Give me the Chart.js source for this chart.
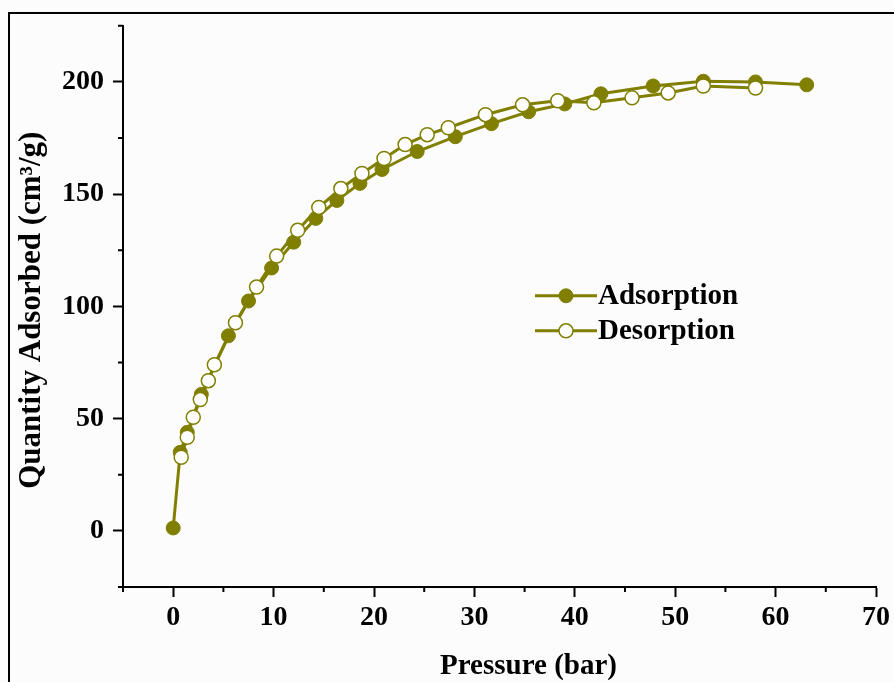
<!DOCTYPE html>
<html>
<head>
<meta charset="utf-8">
<script src="https://cdn.jsdelivr.net/npm/chart.js@4.4.1/dist/chart.umd.min.js"></script>
<style>
    html, body { margin: 0; padding: 0; background: #fcfcfc; }
    #frame {
        position: absolute; left: 8px; top: 12px; right: -10px; bottom: -10px;
        border-left: 2px solid #000; border-top: 2px solid #000;
    }
    #chart { position: absolute; left: 0; top: 0; }
</style>
</head>
<body>
<div id="frame"></div>
<canvas id="chart" width="894" height="682"></canvas>
<script>
// Adsorption isotherm (filled) and desorption branch (open)
const adsPressure = [0.0, 0.7, 1.4, 2.8, 5.5, 7.5, 9.8, 12.0, 14.2, 16.3, 18.6, 20.8, 24.3, 28.1, 31.7, 35.4, 39.0, 42.6, 47.8, 52.8, 58.0, 63.1];
const adsQuantity = [1.3, 35.0, 43.9, 60.8, 86.9, 102.4, 117.1, 128.6, 139.2, 147.2, 154.8, 161.0, 169.0, 175.6, 181.4, 186.7, 190.2, 194.7, 198.2, 200.3, 200.0, 198.7];

const desPressure = [58.0, 52.8, 49.3, 45.7, 41.9, 38.3, 34.8, 31.1, 27.4, 25.3, 23.1, 21.0, 18.8, 16.7, 14.5, 12.4, 10.3, 8.3, 6.2, 4.1, 3.5, 2.7, 2.0, 1.4, 0.8];
const desQuantity = [197.3, 198.2, 195.1, 192.9, 190.7, 191.6, 189.8, 185.4, 179.6, 176.5, 172.1, 165.9, 159.2, 152.5, 144.1, 133.9, 122.4, 108.6, 92.7, 74.0, 66.9, 58.5, 50.6, 41.7, 32.8];

const xTicks = [0, 10, 20, 30, 40, 50, 60, 70];
const xMinorTicks = [-5, 5, 15, 25, 35, 45, 55, 65];
const yTicks = [0, 50, 100, 150, 200];
const yMinorTicks = [-25, 25, 75, 125, 175, 225];

const olive = '#807f00';
const serif = "'Liberation Serif', 'Times New Roman', serif";

function toPoints(xs, ys) {
    return xs.map((x, i) => ({ x: x, y: ys[i] }));
}

// short minor ticks, drawn outward like the major ones
const minorTicks = {
    id: 'minorTicks',
    afterDraw(chart) {
        const ctx = chart.ctx;
        const xs = chart.scales.x, ys = chart.scales.y;
        ctx.save();
        ctx.strokeStyle = '#000';
        ctx.lineWidth = 2;
        ctx.beginPath();
        xMinorTicks.forEach(v => {
            const px = xs.getPixelForValue(v);
            ctx.moveTo(px, xs.top);
            ctx.lineTo(px, xs.top + 5);
        });
        yMinorTicks.forEach(v => {
            const py = ys.getPixelForValue(v);
            ctx.moveTo(ys.right, py);
            ctx.lineTo(ys.right - 5, py);
        });
        ctx.stroke();
        ctx.restore();
    }
};

// legend inside the plot, line + marker + label
const innerLegend = {
    id: 'innerLegend',
    afterDraw(chart) {
        const ctx = chart.ctx;
        const area = chart.chartArea;
        const x0 = area.left + 412, lineLen = 62;
        const rows = [area.top + 270, area.top + 305];
        ctx.save();
        chart.data.datasets.forEach((ds, i) => {
            const y = rows[i];
            ctx.strokeStyle = ds.borderColor;
            ctx.lineWidth = ds.borderWidth;
            ctx.beginPath();
            ctx.moveTo(x0, y);
            ctx.lineTo(x0 + lineLen, y);
            ctx.stroke();
            ctx.beginPath();
            ctx.arc(x0 + lineLen / 2, y, ds.pointRadius, 0, Math.PI * 2);
            ctx.fillStyle = ds.pointBackgroundColor;
            ctx.fill();
            ctx.lineWidth = ds.pointBorderWidth;
            ctx.strokeStyle = ds.pointBorderColor;
            ctx.stroke();
            ctx.fillStyle = '#000';
            ctx.font = "bold 29px " + serif;
            ctx.textBaseline = 'middle';
            ctx.fillText(ds.label, x0 + lineLen + 1, y + 1);
        });
        ctx.restore();
    }
};

new Chart(document.getElementById('chart'), {
    type: 'scatter',
    data: {
        datasets: [
            {
                label: 'Adsorption',
                data: toPoints(adsPressure, adsQuantity),
                showLine: true,
                borderColor: olive,
                borderWidth: 3,
                pointRadius: 7,
                pointBackgroundColor: olive,
                pointBorderColor: olive,
                pointBorderWidth: 1,
                order: 2
            },
            {
                label: 'Desorption',
                data: toPoints(desPressure, desQuantity),
                showLine: true,
                borderColor: olive,
                borderWidth: 3,
                pointRadius: 7,
                pointBackgroundColor: '#ffffff',
                pointBorderColor: olive,
                pointBorderWidth: 1.5,
                order: 1
            }
        ]
    },
    options: {
        responsive: false,
        animation: false,
        layout: { padding: { left: 0, right: 16, top: 24, bottom: 0 } },
        plugins: {
            legend: { display: false },
            tooltip: { enabled: false }
        },
        scales: {
            x: {
                type: 'linear',
                min: -5,
                max: 70,
                afterBuildTicks: s => { s.ticks = xTicks.map(v => ({ value: v })); },
                afterFit: s => { s.height = 95; },
                border: { color: '#000', width: 2 },
                grid: { drawOnChartArea: false, drawTicks: true, tickLength: 10, tickColor: '#000', tickWidth: 2 },
                ticks: { color: '#000', padding: 4, font: { family: serif, size: 28, weight: 'bold' } },
                title: {
                    display: true,
                    // leading spaces nudge the title right, as in the source figure
                    text: '        Pressure (bar)',
                    color: '#000',
                    padding: { top: 0, bottom: -2 },
                    font: { family: serif, size: 29, weight: 'bold' }
                }
            },
            y: {
                type: 'linear',
                min: -25,
                max: 225,
                afterBuildTicks: s => { s.ticks = yTicks.map(v => ({ value: v })); },
                afterFit: s => { s.width = 123; },
                border: { color: '#000', width: 2 },
                grid: { drawOnChartArea: false, drawTicks: true, tickLength: 10, tickColor: '#000', tickWidth: 2 },
                ticks: { color: '#000', padding: 9, font: { family: serif, size: 28, weight: 'bold' } },
                title: {
                    display: true,
                    text: 'Quantity Adsorbed (cm³/g) ',
                    color: '#000',
                    padding: { top: 13, bottom: 0 },
                    font: { family: serif, size: 31, weight: 'bold' }
                }
            }
        }
    },
    plugins: [minorTicks, innerLegend]
});
</script>
</body>
</html>
